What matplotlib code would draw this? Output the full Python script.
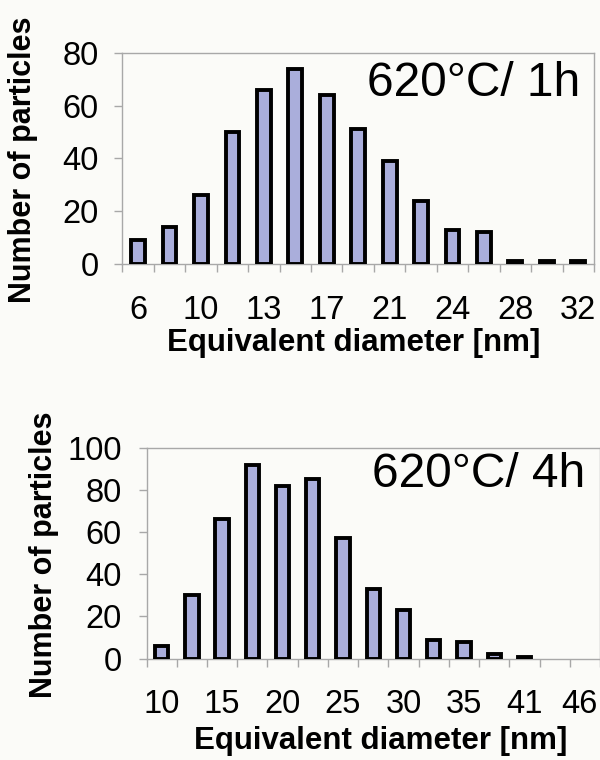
import matplotlib
matplotlib.use('Agg')
import matplotlib.pyplot as plt
from matplotlib.ticker import FixedLocator
from matplotlib.transforms import ScaledTranslation

plt.rcParams['font.family'] = ['Liberation Sans', 'DejaVu Sans']

# 620°C / 1h
labels_1h = ['6', '', '10', '', '13', '', '17', '', '21', '', '24', '', '28', '', '32']
counts_1h = [9, 14, 26, 50, 66, 74, 64, 51, 39, 24, 13, 12, 1, 1, 1]

# 620°C / 4h
labels_4h = ['10', '', '15', '', '20', '', '25', '', '30', '', '35', '', '41', '', '46']
counts_4h = [6, 30, 66, 92, 82, 85, 57, 33, 23, 9, 8, 2, 1, 0, 0]

BG = '#fbfbf8'
BAR = '#aaaedb'
GRID = '#a8a8a8'


def draw_hist(ax, labels, counts, ymax, step, title, title_xy, xlabel_xy, ylabel_xy, ypad):
    """Excel-style bar chart with outlined bars"""
    x = list(range(len(counts)))
    ax.set_facecolor(BG)
    # empty classes get no bar at all
    xs = [i for i, c in zip(x, counts) if c > 0]
    hs = [c for c in counts if c > 0]
    ax.bar(xs, hs, width=0.44, color=BAR, edgecolor='black', linewidth=2.8, zorder=3)
    ax.set_xlim(-0.5, len(counts) - 0.5)
    ax.set_ylim(0, ymax)
    ax.set_yticks(range(0, ymax + 1, step))

    # labels at category centres, tick marks on category borders
    ax.set_xticks(x)
    ax.set_xticklabels(labels)
    ax.xaxis.set_minor_locator(FixedLocator([i - 0.5 for i in range(len(counts) + 1)]))
    ax.tick_params(axis='x', which='major', length=0, pad=22, labelsize=23.5)
    ax.tick_params(axis='x', which='minor', length=6, width=1, color=GRID, direction='out')
    ax.tick_params(axis='y', length=6, width=1, color=GRID, direction='out', pad=ypad, labelsize=23.5)

    for s in ax.spines.values():
        s.set_color(GRID)
        s.set_linewidth(1)

    ax.text(title_xy[0], title_xy[1], title, transform=ax.transAxes,
            ha='right', va='center', fontsize=34.5)
    ax.set_xlabel('Equivalent diameter [nm]', fontsize=22.5, fontweight='bold', va='center')
    ax.xaxis.set_label_coords(*xlabel_xy)
    ax.set_ylabel('Number of particles', fontsize=22, fontweight='bold', va='center')
    ax.yaxis.set_label_coords(*ylabel_xy)


fig = plt.figure(figsize=(6, 7.6), dpi=100, facecolor=BG)
ax1 = fig.add_axes([0.204, 0.6526, 0.786, 0.278])
ax2 = fig.add_axes([0.2443, 0.1333, 0.7557, 0.2776])

draw_hist(ax1, labels_1h, counts_1h, 80, 20, '620°C/ 1h',
          (0.970, 0.855), (0.49, -0.374), (-0.211, 0.492), 11)
draw_hist(ax2, labels_4h, counts_4h, 100, 20, '620°C/ 4h',
          (0.967, 0.875), (0.517, -0.392), (-0.226, 0.494), 12)

# keep the last label of the lower chart inside the picture
last = ax2.get_xticklabels()[-1]
last.set_transform(last.get_transform() + ScaledTranslation(-4 / 72, 0, fig.dpi_scale_trans))

fig.savefig('out.png', dpi=100, facecolor=BG)
